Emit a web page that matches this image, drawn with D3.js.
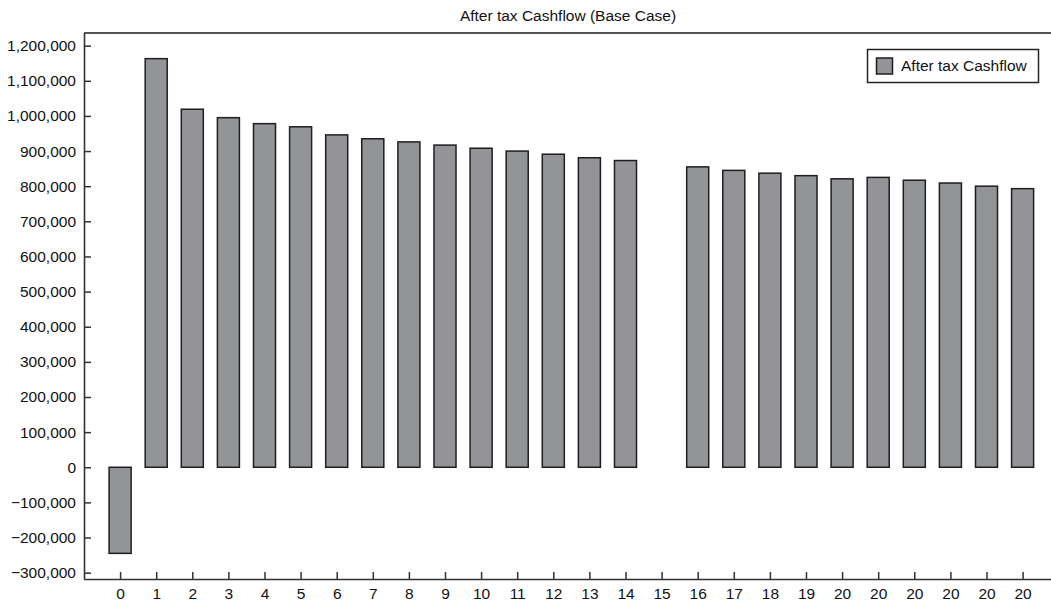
<!DOCTYPE html>
<html>
<head>
<meta charset="utf-8">
<script src="https://cdn.jsdelivr.net/npm/d3@7"></script>
<style>
  html, body { margin: 0; padding: 0; background: #fff; }
  svg { display: block; font-family: "Liberation Sans", Arial, Helvetica, sans-serif; }
</style>
</head>
<body>
<svg id="chart" width="1051" height="601"></svg>
<script>
const title = "After tax Cashflow (Base Case)";
const seriesName = "After tax Cashflow";
const categories = ["0","1","2","3","4","5","6","7","8","9","10","11","12","13","14","15","16","17","18","19","20","20","20","20","20","20"];
const values = [-245000, 1163000, 1019000, 995000, 978000, 969000, 946000, 935000, 926000, 917000, 908000, 900000, 891000, 881000, 873000, null, 855000, 845000, 837000, 830000, 821000, 825000, 817000, 809000, 800000, 793000];
const yTicks = [-300000,-200000,-100000,0,100000,200000,300000,400000,500000,600000,700000,800000,900000,1000000,1100000,1200000];

(function () {
const svg = d3.select("#chart");
const W = 1051;
const pLeft = 84, pTop = 33, pBottom = 579, pRight = 1058.7;
const fontSize = "15.5px";

const idx = categories.map((d, i) => i);
const x = d3.scalePoint().domain(idx).range([pLeft, pRight]).padding(1);
const step = x.step();
const barW = step * 0.61;
const y = d3.scaleLinear().domain([-318000, 1236000]).range([pBottom, pTop]);

const fmt = v => (v < 0 ? "\u2212" : "") + d3.format(",")(Math.abs(v));

// top frame line
svg.append("line")
  .attr("x1", pLeft).attr("x2", W).attr("y1", pTop).attr("y2", pTop)
  .attr("stroke", "#555").attr("stroke-width", 2);

// bars
svg.append("g").selectAll("rect")
  .data(values.map((v, i) => ({v, i})).filter(d => d.v !== null))
  .join("rect")
  .attr("x", d => x(d.i) - barW / 2)
  .attr("width", barW)
  .attr("y", d => y(Math.max(0, d.v)))
  .attr("height", d => Math.abs(y(d.v) - y(0)))
  .attr("fill", "#939498")
  .attr("stroke", "#1e1e1e")
  .attr("stroke-width", 1.5);

// y axis
const yAxis = d3.axisLeft(y).tickValues(yTicks).tickFormat(fmt)
  .tickSizeInner(-7).tickSizeOuter(0).tickPadding(8);
const gy = svg.append("g").attr("transform", `translate(${pLeft},0)`).call(yAxis);
gy.select(".domain").attr("stroke", "#333").attr("stroke-width", 1.6)
  .attr("d", `M0.5,${pTop}V${pBottom}`);
gy.selectAll(".tick line").attr("stroke", "#333").attr("stroke-width", 1.5);
gy.selectAll(".tick text").attr("font-size", fontSize).attr("fill", "#111")
  .attr("font-family", "'Liberation Sans', Arial, sans-serif");

// x axis
const xAxis = d3.axisBottom(x).tickFormat(i => categories[i])
  .tickSizeInner(-7).tickSizeOuter(0).tickPadding(9);
const gx = svg.append("g").attr("transform", `translate(0,${pBottom})`).call(xAxis);
gx.select(".domain").attr("stroke", "#333").attr("stroke-width", 1.6)
  .attr("d", `M${pLeft},0.5H${W}`);
gx.selectAll(".tick line").attr("stroke", "#333").attr("stroke-width", 1.5);
gx.selectAll(".tick text").attr("font-size", fontSize).attr("fill", "#111")
  .attr("font-family", "'Liberation Sans', Arial, sans-serif");

// title
svg.append("text")
  .attr("x", 568).attr("y", 21)
  .attr("text-anchor", "middle")
  .attr("font-size", fontSize).attr("fill", "#111")
  .text(title);

// legend
const lg = svg.append("g");
lg.append("rect").attr("x", 867.5).attr("y", 49.5).attr("width", 171).attr("height", 33)
  .attr("fill", "#fff").attr("stroke", "#222").attr("stroke-width", 1.5);
lg.append("rect").attr("x", 876.5).attr("y", 58).attr("width", 16).attr("height", 16)
  .attr("fill", "#939498").attr("stroke", "#1e1e1e").attr("stroke-width", 1.5);
lg.append("text").attr("x", 901).attr("y", 71)
  .attr("font-size", fontSize).attr("fill", "#111")
  .text(seriesName);
})();
</script>
</body>
</html>
